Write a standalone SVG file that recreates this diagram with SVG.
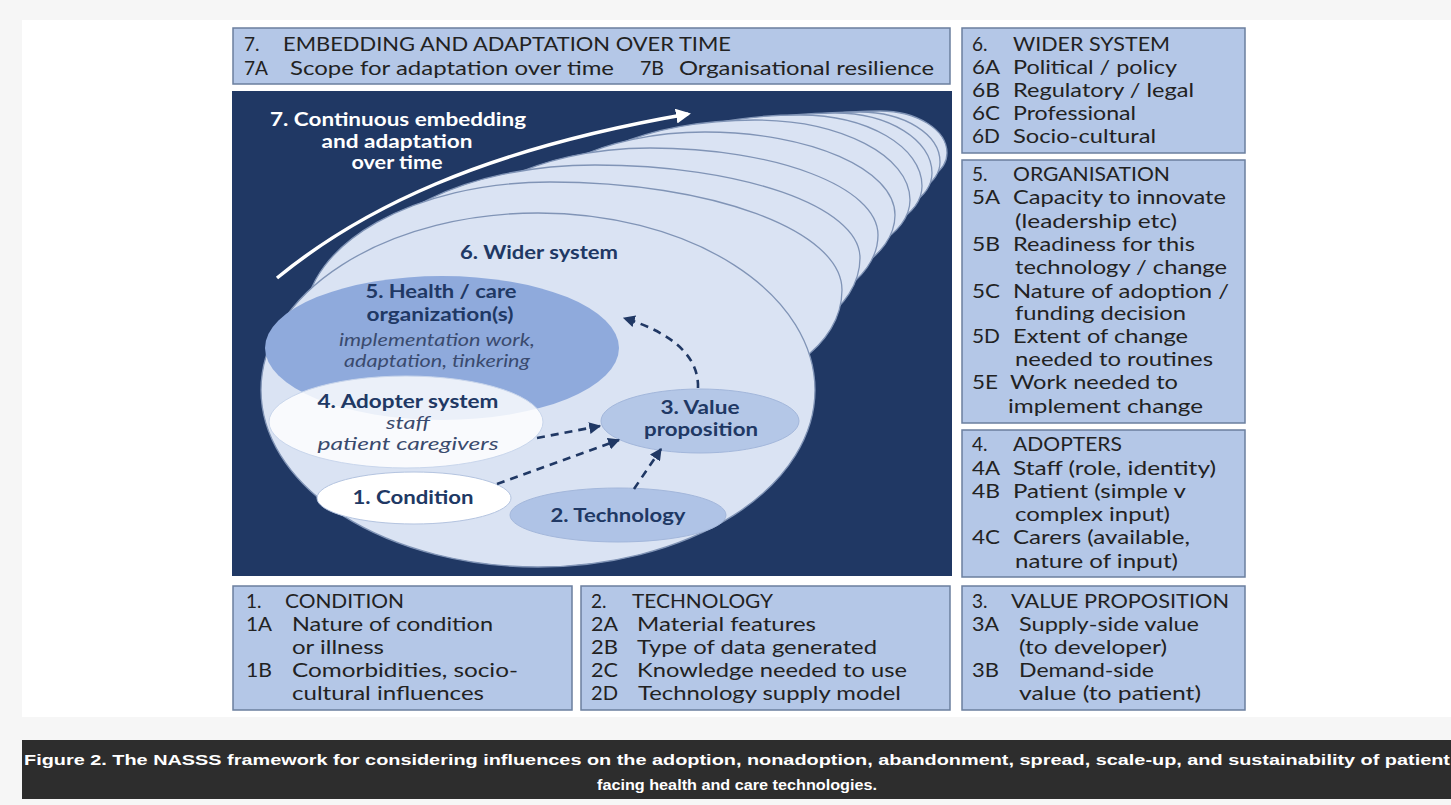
<svg xmlns="http://www.w3.org/2000/svg" width="1451" height="805" viewBox="0 0 1451 805">
<defs>
<style>
.box{fill:#b4c7e7;stroke:#6b7f9e;stroke-width:1.5}
.bt{font-family:Lato,'Liberation Sans',sans-serif;font-size:19px;fill:#222}
.sh{fill:#dae3f3;stroke:#8094b6;stroke-width:1.3}
.lb{font-family:Lato,'Liberation Sans',sans-serif;font-size:18px;font-weight:bold;fill:#203864;text-anchor:middle}
.it{font-family:Lato,'Liberation Sans',sans-serif;font-size:17px;font-style:italic;fill:#3a4a6e;text-anchor:middle}
.wl{font-family:Lato,'Liberation Sans',sans-serif;font-size:18px;font-weight:bold;fill:#ffffff;text-anchor:middle}
.dash{fill:none;stroke:#203864;stroke-width:2.6;stroke-dasharray:8 6}
.cap{font-family:'Liberation Sans',Arial,sans-serif;font-size:15px;font-weight:bold;fill:#ffffff;text-anchor:middle}
</style>
<marker id="ah" viewBox="0 0 10 10" refX="9" refY="5" markerWidth="12" markerHeight="12" markerUnits="userSpaceOnUse" orient="auto"><path d="M0,0 L10,5 L0,10 z" fill="#203864"/></marker>
<marker id="wh" viewBox="0 0 10 10" refX="8" refY="5" markerWidth="15" markerHeight="15" markerUnits="userSpaceOnUse" orient="auto"><path d="M0,0 L10,5 L0,10 z" fill="#ffffff"/></marker>
</defs>
<rect x="0" y="0" width="1451" height="805" fill="#f6f6f6"/>
<rect x="22" y="20" width="1429" height="697" fill="#ffffff"/>

<g id="box7">
<rect class="box" x="233" y="28" width="717" height="56"/>
<text class="bt" x="244" y="51">7.</text>
<text class="bt" x="283" y="51" textLength="448" lengthAdjust="spacingAndGlyphs">EMBEDDING AND ADAPTATION OVER TIME</text>
<text class="bt" x="244" y="75" textLength="24" lengthAdjust="spacingAndGlyphs">7A</text>
<text class="bt" x="290" y="75" textLength="324" lengthAdjust="spacingAndGlyphs">Scope for adaptation over time</text>
<text class="bt" x="640" y="75" textLength="24" lengthAdjust="spacingAndGlyphs">7B</text>
<text class="bt" x="679" y="75" textLength="255" lengthAdjust="spacingAndGlyphs">Organisational resilience</text>
</g>

<g id="box6">
<rect class="box" x="962" y="28" width="283" height="125"/>
<text class="bt" x="972" y="51">6.</text>
<text class="bt" x="1013" y="51" textLength="157" lengthAdjust="spacingAndGlyphs">WIDER SYSTEM</text>
<text class="bt" x="972" y="74" textLength="28" lengthAdjust="spacingAndGlyphs">6A</text>
<text class="bt" x="1013" y="74" textLength="164" lengthAdjust="spacingAndGlyphs">Political / policy</text>
<text class="bt" x="972" y="97" textLength="28" lengthAdjust="spacingAndGlyphs">6B</text>
<text class="bt" x="1013" y="97" textLength="181" lengthAdjust="spacingAndGlyphs">Regulatory / legal</text>
<text class="bt" x="972" y="120" textLength="28" lengthAdjust="spacingAndGlyphs">6C</text>
<text class="bt" x="1013" y="120" textLength="123" lengthAdjust="spacingAndGlyphs">Professional</text>
<text class="bt" x="972" y="143" textLength="28" lengthAdjust="spacingAndGlyphs">6D</text>
<text class="bt" x="1013" y="143" textLength="143" lengthAdjust="spacingAndGlyphs">Socio-cultural</text>
</g>

<g id="box5">
<rect class="box" x="962" y="160" width="283" height="263"/>
<text class="bt" x="972" y="181">5.</text>
<text class="bt" x="1013" y="181" textLength="157" lengthAdjust="spacingAndGlyphs">ORGANISATION</text>
<text class="bt" x="972" y="204" textLength="28" lengthAdjust="spacingAndGlyphs">5A</text>
<text class="bt" x="1013" y="204" textLength="213" lengthAdjust="spacingAndGlyphs">Capacity to innovate</text>
<text class="bt" x="1015" y="228" textLength="162" lengthAdjust="spacingAndGlyphs">(leadership etc)</text>
<text class="bt" x="972" y="251" textLength="28" lengthAdjust="spacingAndGlyphs">5B</text>
<text class="bt" x="1013" y="251" textLength="182" lengthAdjust="spacingAndGlyphs">Readiness for this</text>
<text class="bt" x="1015" y="274" textLength="212" lengthAdjust="spacingAndGlyphs">technology / change</text>
<text class="bt" x="972" y="298" textLength="28" lengthAdjust="spacingAndGlyphs">5C</text>
<text class="bt" x="1013" y="298" textLength="216" lengthAdjust="spacingAndGlyphs">Nature of adoption /</text>
<text class="bt" x="1015" y="320" textLength="171" lengthAdjust="spacingAndGlyphs">funding decision</text>
<text class="bt" x="972" y="343" textLength="28" lengthAdjust="spacingAndGlyphs">5D</text>
<text class="bt" x="1013" y="343" textLength="175" lengthAdjust="spacingAndGlyphs">Extent of change</text>
<text class="bt" x="1015" y="366" textLength="198" lengthAdjust="spacingAndGlyphs">needed to routines</text>
<text class="bt" x="972" y="389" textLength="26" lengthAdjust="spacingAndGlyphs">5E</text>
<text class="bt" x="1010" y="389" textLength="168" lengthAdjust="spacingAndGlyphs">Work needed to</text>
<text class="bt" x="1008" y="413" textLength="195" lengthAdjust="spacingAndGlyphs">implement change</text>
</g>

<g id="box4">
<rect class="box" x="962" y="430" width="283" height="147"/>
<text class="bt" x="972" y="451">4.</text>
<text class="bt" x="1013" y="451" textLength="109" lengthAdjust="spacingAndGlyphs">ADOPTERS</text>
<text class="bt" x="972" y="475" textLength="28" lengthAdjust="spacingAndGlyphs">4A</text>
<text class="bt" x="1013" y="475" textLength="203" lengthAdjust="spacingAndGlyphs">Staff (role, identity)</text>
<text class="bt" x="972" y="498" textLength="28" lengthAdjust="spacingAndGlyphs">4B</text>
<text class="bt" x="1013" y="498" textLength="173" lengthAdjust="spacingAndGlyphs">Patient (simple v</text>
<text class="bt" x="1015" y="521" textLength="155" lengthAdjust="spacingAndGlyphs">complex input)</text>
<text class="bt" x="972" y="544" textLength="28" lengthAdjust="spacingAndGlyphs">4C</text>
<text class="bt" x="1013" y="544" textLength="177" lengthAdjust="spacingAndGlyphs">Carers (available,</text>
<text class="bt" x="1015" y="568" textLength="163" lengthAdjust="spacingAndGlyphs">nature of input)</text>
</g>

<g id="box1">
<rect class="box" x="233" y="586" width="339" height="124"/>
<text class="bt" x="246" y="608">1.</text>
<text class="bt" x="285" y="608" textLength="119" lengthAdjust="spacingAndGlyphs">CONDITION</text>
<text class="bt" x="246" y="631" textLength="26" lengthAdjust="spacingAndGlyphs">1A</text>
<text class="bt" x="292" y="631" textLength="201" lengthAdjust="spacingAndGlyphs">Nature of condition</text>
<text class="bt" x="292" y="654" textLength="92" lengthAdjust="spacingAndGlyphs">or illness</text>
<text class="bt" x="246" y="677" textLength="26" lengthAdjust="spacingAndGlyphs">1B</text>
<text class="bt" x="292" y="677" textLength="226" lengthAdjust="spacingAndGlyphs">Comorbidities, socio-</text>
<text class="bt" x="292" y="700" textLength="192" lengthAdjust="spacingAndGlyphs">cultural influences</text>
</g>

<g id="box2">
<rect class="box" x="581" y="586" width="369" height="124"/>
<text class="bt" x="591" y="608">2.</text>
<text class="bt" x="632" y="608" textLength="141" lengthAdjust="spacingAndGlyphs">TECHNOLOGY</text>
<text class="bt" x="591" y="631" textLength="27" lengthAdjust="spacingAndGlyphs">2A</text>
<text class="bt" x="637" y="631" textLength="179" lengthAdjust="spacingAndGlyphs">Material features</text>
<text class="bt" x="591" y="654" textLength="27" lengthAdjust="spacingAndGlyphs">2B</text>
<text class="bt" x="637" y="654" textLength="240" lengthAdjust="spacingAndGlyphs">Type of data generated</text>
<text class="bt" x="591" y="677" textLength="27" lengthAdjust="spacingAndGlyphs">2C</text>
<text class="bt" x="637" y="677" textLength="270" lengthAdjust="spacingAndGlyphs">Knowledge needed to use</text>
<text class="bt" x="591" y="700" textLength="27" lengthAdjust="spacingAndGlyphs">2D</text>
<text class="bt" x="638" y="700" textLength="263" lengthAdjust="spacingAndGlyphs">Technology supply model</text>
</g>

<g id="box3">
<rect class="box" x="962" y="586" width="283" height="124"/>
<text class="bt" x="972" y="608">3.</text>
<text class="bt" x="1011" y="608" textLength="218" lengthAdjust="spacingAndGlyphs">VALUE PROPOSITION</text>
<text class="bt" x="972" y="631" textLength="27" lengthAdjust="spacingAndGlyphs">3A</text>
<text class="bt" x="1019" y="631" textLength="180" lengthAdjust="spacingAndGlyphs">Supply-side value</text>
<text class="bt" x="1019" y="654" textLength="148" lengthAdjust="spacingAndGlyphs">(to developer)</text>
<text class="bt" x="972" y="677" textLength="27" lengthAdjust="spacingAndGlyphs">3B</text>
<text class="bt" x="1019" y="677" textLength="135" lengthAdjust="spacingAndGlyphs">Demand-side</text>
<text class="bt" x="1019" y="700" textLength="182" lengthAdjust="spacingAndGlyphs">value (to patient)</text>
</g>

<g id="panel">
<rect x="232" y="91" width="720" height="485" fill="#203864"/>
</g>

<g id="wider-system-layers">
<path class="sh" d="M760,150 C760,128.5 813.7,111 880,111 C917,111 947,129.8 947,153 C947,170.7 926,185 900,185 C822.7,185 760,169.3 760,150 Z"/>
<path class="sh" d="M720,160 C720,133.5 782.7,112 860,112 C904.2,112 940,134.4 940,162 C940,183 913.1,200 880,200 C791.6,200 720,182.1 720,160 Z"/>
<path class="sh" d="M680,170 C680,138.5 749.4,113 835,113 C888.6,113 932,139.9 932,173 C932,197.3 899.8,217 860,217 C760.6,217 680,196 680,170 Z"/>
<path class="sh" d="M620,185 C620,146.3 700.6,115 800,115 C867.4,115 922,146.8 922,186 C922,214.7 880.8,238 830,238 C714,238 620,214.3 620,185 Z"/>
<path class="sh" d="M560,205 C560,158.1 647.3,120 755,120 C840.6,120 910,155.8 910,200 C910,234.2 860.8,262 800,262 C667.4,262 560,236.5 560,205 Z"/>
<path class="sh" d="M520,225 C520,173.6 602.8,132 705,132 C809.9,132 895,169.2 895,215 C895,256.4 839,290 770,290 C631.9,290 520,260.9 520,225 Z"/>
<path class="sh" d="M440,260 C440,198.1 534,148 650,148 C775.9,148 878,187 878,235 C878,280.8 816.2,318 740,318 C574.3,318 440,292 440,260 Z"/>
<path class="sh" d="M360,282 C360,217.4 465.2,165 595,165 C741.4,165 860,206.6 860,258 C860,308.8 797.3,350 720,350 C521.2,350 360,319.6 360,282 Z"/>
<path class="sh" d="M305,320 C305,243.8 414.7,182 550,182 C711.3,182 842,230.4 842,290 C842,345.2 778.4,390 700,390 C481.8,390 305,358.7 305,320 Z"/>
<ellipse class="sh" cx="538" cy="390" rx="277" ry="177"/>
<text class="lb" x="539" y="259" textLength="158" lengthAdjust="spacingAndGlyphs">6. Wider system</text>
</g>

<g id="time-arrow">
<path d="M277,278 C360,210 480,150 688,114" fill="none" stroke="#ffffff" stroke-width="3.5" marker-end="url(#wh)"/>
<text class="wl" x="398" y="126" textLength="256" lengthAdjust="spacingAndGlyphs">7. Continuous embedding</text>
<text class="wl" x="397" y="148" textLength="151" lengthAdjust="spacingAndGlyphs">and adaptation</text>
<text class="wl" x="397" y="169" textLength="91" lengthAdjust="spacingAndGlyphs">over time</text>
</g>

<g id="node5">
<ellipse cx="442" cy="348" rx="177" ry="72" fill="#8faadc"/>
<text class="lb" x="441" y="298" textLength="151" lengthAdjust="spacingAndGlyphs">5. Health / care</text>
<text class="lb" x="440" y="321" textLength="147" lengthAdjust="spacingAndGlyphs">organization(s)</text>
<text class="it" x="437" y="346" textLength="196" lengthAdjust="spacingAndGlyphs">implementation work,</text>
<text class="it" x="437" y="367" textLength="186" lengthAdjust="spacingAndGlyphs">adaptation, tinkering</text>
</g>

<g id="node4">
<ellipse cx="406" cy="422" rx="137" ry="46" fill="#ffffff" fill-opacity="0.82" stroke="#c9d6ec" stroke-width="1"/>
<text class="lb" x="408" y="408" textLength="181" lengthAdjust="spacingAndGlyphs">4. Adopter system</text>
<text class="it" x="408" y="429" textLength="44" lengthAdjust="spacingAndGlyphs">staff</text>
<text class="it" x="408" y="450" textLength="181" lengthAdjust="spacingAndGlyphs">patient  caregivers</text>
</g>

<g id="node3">
<ellipse cx="700" cy="421" rx="99" ry="32" fill="#b4c7e7" stroke="#a3b7db" stroke-width="1"/>
<text class="lb" x="700" y="414" textLength="79" lengthAdjust="spacingAndGlyphs">3. Value</text>
<text class="lb" x="701" y="436" textLength="114" lengthAdjust="spacingAndGlyphs">proposition</text>
</g>

<g id="node1">
<ellipse cx="414" cy="498" rx="97" ry="26" fill="#ffffff" stroke="#b4c4e0" stroke-width="1"/>
<text class="lb" x="413" y="504" textLength="121" lengthAdjust="spacingAndGlyphs">1. Condition</text>
</g>

<g id="node2">
<ellipse cx="618" cy="515" rx="108" ry="27" fill="#afc3e6" stroke="#a3b7db" stroke-width="1"/>
<text class="lb" x="618" y="522" textLength="135" lengthAdjust="spacingAndGlyphs">2. Technology</text>
</g>

<g id="connectors">
<path class="dash" d="M537,438 L600,426" marker-end="url(#ah)"/>
<path class="dash" d="M497,484 L619,440" marker-end="url(#ah)"/>
<path class="dash" d="M634,489 L661,449" marker-end="url(#ah)"/>
<path class="dash" d="M698,388 C699,356 672,333 624,318" marker-end="url(#ah)"/>
</g>

<g id="caption">
<rect x="22" y="740" width="1429" height="59" fill="#2d2d2d"/>
<text class="cap" x="737" y="765" textLength="1426" lengthAdjust="spacingAndGlyphs">Figure 2. The NASSS framework for considering influences on the adoption, nonadoption, abandonment, spread, scale-up, and sustainability of patient</text>
<text class="cap" x="737" y="790" textLength="280" lengthAdjust="spacingAndGlyphs">facing health and care technologies.</text>
</g>
</svg>
